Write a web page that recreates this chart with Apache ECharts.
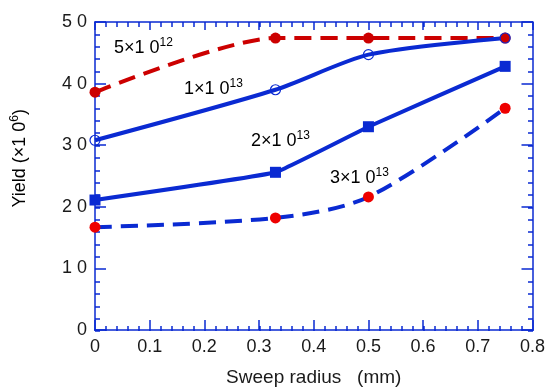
<!DOCTYPE html>
<html><head><meta charset="utf-8">
<script src="https://cdn.jsdelivr.net/npm/echarts@6/dist/echarts.min.js"></script>
<style>html,body{margin:0;padding:0;background:#fff}#c{width:548px;height:392px}</style>
</head><body><div id="c"></div>
<script>
const xValues = [0, 0.33, 0.5, 0.75];
const yield5e12 = [38.6, 47.4, 47.4, 47.4];
const yield1e13 = [30.8, 39.0, 44.7, 47.4];
const yield2e13 = [21.1, 25.6, 33.0, 42.8];
const yield3e13 = [16.7, 18.2, 21.6, 36.0];
const yTickLabels = {0:'0',10:'1 0',20:'2 0',30:'3 0',40:'4 0',50:'5 0'};
const xTickLabels = {0:'0',1:'0.1',2:'0.2',3:'0.3',4:'0.4',5:'0.5',6:'0.6',7:'0.7',8:'0.8'};

const BLUE = '#0a2ad2', DRED = '#cc0000', RED = '#ee0000';
const FONT = '"Liberation Sans", Arial, sans-serif';
const TXT = '#1a1a1a';
const pair = (ys) => xValues.map((x, i) => [x, ys[i]]);

const chart = echarts.init(document.getElementById('c'), null, {renderer: 'canvas'});
const tickStyle = {color: BLUE, width: 1.5};
const G = {left: 95, right: 15, top: 22, bottom: 61};
function axis(extra) {
  return Object.assign({
    type: 'value',
    axisLine: {show: true, onZero: false, lineStyle: {color: BLUE, width: 1.5}},
    splitLine: {show: false},
    axisLabel: {show: false}
  }, extra);
}
function minorAxis(extra) {
  return Object.assign({
    type: 'value', gridIndex: 1,
    axisLine: {show: false, onZero: false},
    splitLine: {show: false},
    axisLabel: {show: false},
    axisTick: {show: true, inside: true, length: 5, lineStyle: tickStyle}
  }, extra);
}
const rich = {
  b: {fontSize: 18, fontFamily: FONT, color: TXT, lineHeight: 22},
  s: {fontSize: 12, fontFamily: FONT, color: TXT, verticalAlign: 'top', lineHeight: 22, padding: [0, 0, 9, 0]}
};
function lbl(x, y, main, sup) {
  return {type: 'text', left: x, top: y, style: {text: '{b|' + main + '}{s|' + sup + '}', rich: rich}};
}
chart.setOption({
  animation: false,
  grid: [Object.assign({}, G), Object.assign({}, G)],
  xAxis: [
    axis({
      min: 0, max: 0.8, interval: 0.1,
      axisTick: {show: true, inside: true, length: 10, lineStyle: tickStyle},
      axisLabel: {show: true, margin: 8, fontSize: 18, fontFamily: FONT, color: TXT, formatter: v => xTickLabels[Math.round(v*10)]},
      name: 'Sweep radius   (mm)', nameLocation: 'middle', nameGap: 38,
      nameTextStyle: {fontSize: 19, fontFamily: FONT, color: TXT}
    }),
    axis({
      position: 'top', min: 0, max: 0.8, interval: 0.1,
      axisTick: {show: true, inside: true, length: 8, lineStyle: tickStyle}
    }),
    minorAxis({position: 'bottom', min: 0, max: 0.8, interval: 0.02}),
    minorAxis({position: 'top', min: 0, max: 0.8, interval: 0.02})
  ],
  yAxis: [
    axis({
      min: 0, max: 50, interval: 10,
      axisTick: {show: true, inside: true, length: 11, lineStyle: tickStyle},
      axisLabel: {show: true, margin: 8, fontSize: 18, fontFamily: FONT, color: TXT, formatter: v => yTickLabels[v]}
    }),
    axis({
      position: 'right', min: 0, max: 50, interval: 10,
      axisTick: {show: true, inside: true, length: 11, lineStyle: tickStyle}
    }),
    minorAxis({position: 'left', min: 0, max: 50, interval: 2}),
    minorAxis({position: 'right', min: 0, max: 50, interval: 2})
  ],
  graphic: [
    lbl(114, 37, '5×1 0', '12'),
    lbl(184, 78, '1×1 0', '13'),
    lbl(251, 130, '2×1 0', '13'),
    lbl(330, 167, '3×1 0', '13'),
    {type: 'text', left: 9, top: 109, rotation: Math.PI/2,
     style: {text: '{b|Yield (×1 0}{s|6}{b|)}', rich: rich}}
  ],
  series: [
    {type: 'line', data: pair(yield5e12), smooth: 0.25, symbol: 'circle', symbolSize: 11,
     lineStyle: {color: DRED, width: 4, type: [17, 9]}, itemStyle: {color: DRED}},
    {type: 'line', data: pair(yield1e13), smooth: 0.25, symbol: 'circle', symbolSize: 10,
     lineStyle: {color: BLUE, width: 4}, itemStyle: {color: 'rgba(255,255,255,0)', borderColor: BLUE, borderWidth: 1.2}},
    {type: 'line', data: pair(yield2e13), smooth: 0.08, symbol: 'rect', symbolSize: 11,
     lineStyle: {color: BLUE, width: 4}, itemStyle: {color: BLUE}},
    {type: 'line', data: pair(yield3e13), smooth: 0.3, symbol: 'circle', symbolSize: 11,
     lineStyle: {color: BLUE, width: 4, type: [17, 9]}, itemStyle: {color: RED}}
  ]
});
</script></body></html>
